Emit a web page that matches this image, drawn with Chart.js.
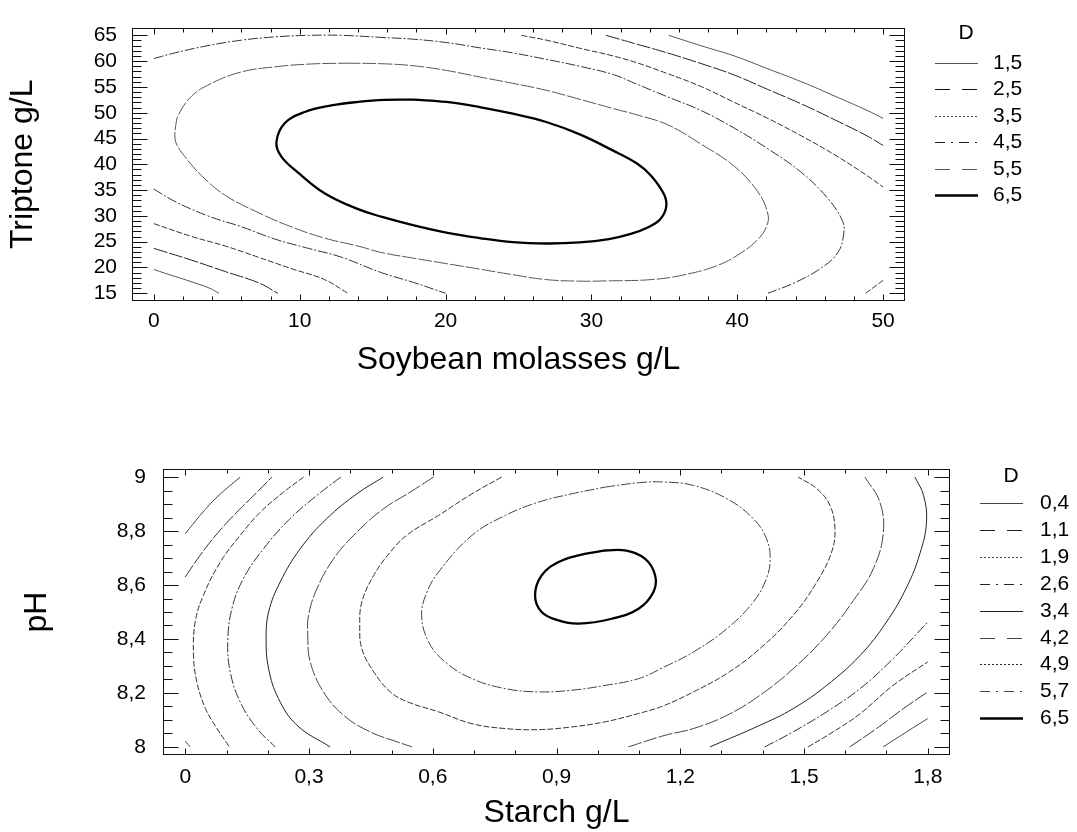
<!DOCTYPE html>
<html>
<head>
<meta charset="utf-8">
<script src="https://cdn.jsdelivr.net/npm/chart.js@4.4.1/dist/chart.umd.min.js"></script>
<style>
  html, body { margin: 0; padding: 0; background: #fff; }
  #wrap { position: relative; width: 1077px; height: 832px; }
  canvas { position: absolute; left: 0; }
</style>
</head>
<body>
<div id="wrap">
  <canvas id="top-chart" width="1077" height="400" style="top:0"></canvas>
  <canvas id="bottom-chart" width="1077" height="402" style="top:430px"></canvas>
</div>
<script>
// ---- upper panel: Soybean molasses vs Triptone ----
let topLevels = ['1,5', '2,5', '3,5', '4,5', '5,5', '6,5'];
let topXTicks = [0, 10, 20, 30, 40, 50];
let topXLabels = ['0', '10', '20', '30', '40', '50'];
let topYTicks = [15, 20, 25, 30, 35, 40, 45, 50, 55, 60, 65];
let topYLabels = ['15', '20', '25', '30', '35', '40', '45', '50', '55', '60', '65'];

// contour lines, [soybean, triptone]
let top15a = [[0, 19.6], [1.44, 18.27], [2.58, 17.22], [3.72, 16.1], [4.47, 15.0]];
let top15b = [[35.3, 65.0], [37.5, 63.0], [39.8, 61.0], [42.1, 58.5], [44.4, 56.0], [46.7, 53.2], [48.9, 50.45], [50, 48.9]];
let top25a = [[0, 23.7], [2.6, 21.4], [4.9, 19.2], [7.2, 17.0], [8.5, 15.0]];
let top25b = [[31.0, 65.0], [33.1, 63.3], [35.2, 61.6], [37.5, 59.55], [39.8, 57.3], [42.1, 54.5], [44.4, 51.7], [46.7, 48.6], [48.9, 45.5], [50, 43.65]];
let top35a = [[0, 28.5], [2.6, 26.0], [4.9, 24.15], [7.15, 22.0], [9.4, 19.8], [11.7, 17.65], [13.3, 15.0]];
let top35b = [[25.2, 65.0], [26.9, 64.07], [29.2, 62.5], [31.5, 61.0], [33.1, 59.7], [35.2, 57.6], [37.5, 55.1], [39.8, 52.0], [42.1, 48.9], [44.4, 45.5], [46.7, 41.8], [48.9, 37.8], [50, 35.6]];
let top35c = [[48.8, 15.0], [50, 17.5]];
let top45a = [[0, 60.5], [1.44, 61.6], [3.7, 63.0], [6.0, 64.06], [8.3, 64.7], [10.6, 65.0], [12.85, 65.0], [15.6, 64.6], [17.8, 64.25],
  [20.05, 63.6], [22.3, 62.6], [24.6, 61.6], [26.9, 60.35], [29.2, 59.0], [31.5, 57.4], [33.1, 55.55], [35.2, 53.1], [37.5, 50.45],
  [39.8, 47.0], [42.1, 43.0], [44.4, 38.4], [46.2, 33.4], [47.2, 29.1], [47.3, 26.6], [46.9, 22.9], [45.7, 19.8], [43.9, 17.0], [42.1, 15.0]];
let top45b = [[0, 35.2], [1.44, 32.8], [3.7, 30.0], [6.0, 27.9], [8.3, 25.5], [10.6, 23.7], [12.85, 22.0], [15.6, 19.0], [17.8, 17.1], [20.0, 15.0]];
let top55 = [[13.2, 59.6], [15.6, 59.5], [17.8, 59.1], [20.05, 58.2], [22.3, 56.95], [24.6, 55.7], [26.9, 54.35], [29.2, 52.6],
  [31.5, 50.8], [33.1, 49.6], [35.2, 47.7], [37.5, 43.95], [39.8, 39.6], [41.4, 34.7], [42.1, 30.35], [42.0, 27.9], [41.4, 25.4],
  [40.3, 22.9], [38.7, 20.45], [36.4, 18.6], [34.1, 17.65], [31.0, 17.4], [29.2, 17.35], [26.9, 17.65], [24.6, 18.6], [22.3, 19.7],
  [20.05, 20.75], [17.8, 21.8], [15.6, 22.9], [14.0, 24.15], [11.7, 25.7], [9.4, 27.9], [7.15, 30.65], [4.86, 34.05], [3.27, 37.8],
  [2.12, 41.5], [1.55, 43.95], [1.44, 45.5], [1.5, 47.5], [1.67, 49.5], [2.58, 53.2], [3.95, 55.7], [6.0, 57.9], [8.3, 58.9],
  [10.8, 59.45], [13.2, 59.6]];
let top65 = [[17.8, 52.55], [20.05, 52.1], [22.33, 51.1], [24.61, 49.8], [26.9, 48.2], [29.2, 45.8], [31.46, 42.7], [33.1, 40.2],
  [34.09, 37.8], [35.0, 34.05], [35.12, 31.6], [34.7, 29.3], [33.9, 27.8], [32.7, 26.5], [31.2, 25.5], [29.2, 24.85], [26.9, 24.65],
  [24.61, 24.9], [22.33, 25.7], [20.05, 26.75], [17.76, 28.2], [15.65, 29.8], [14.0, 31.3], [11.7, 34.4], [9.89, 38.4], [8.74, 41.5],
  [8.4, 44.3], [8.97, 47.97], [10.34, 50.14], [12.17, 51.4], [14.0, 52.1], [15.8, 52.5], [17.8, 52.55]];

// ---- lower panel: Starch vs pH ----
let botLevels = ['0,4', '1,1', '1,9', '2,6', '3,4', '4,2', '4,9', '5,7', '6,5'];
let botXTicks = [0, 0.3, 0.6, 0.9, 1.2, 1.5, 1.8];
let botXLabels = ['0', '0,3', '0,6', '0,9', '1,2', '1,5', '1,8'];
let botYTicks = [8, 8.2, 8.4, 8.6, 8.8, 9];
let botYLabels = ['8', '8,2', '8,4', '8,6', '8,8', '9'];

// [starch, pH]
let bot04a = [[0, 8.79], [0.036, 8.858], [0.077, 8.926], [0.133, 9.0]];
let bot04b = [[0, 8.021], [0.012, 8.0]];
let bot04c = [[1.692, 8.0], [1.749, 8.056], [1.8, 8.105]];
let bot11a = [[0, 8.63], [0.036, 8.71], [0.077, 8.79], [0.125, 8.87], [0.166, 8.932], [0.21, 9.0]];
let bot11b = [[1.611, 8.0], [1.676, 8.068], [1.741, 8.142], [1.8, 8.204]];
let bot19a = [[0.287, 9.0], [0.238, 8.944], [0.182, 8.87], [0.133, 8.784], [0.085, 8.685], [0.044, 8.562], [0.024, 8.463],
  [0.02, 8.34], [0.028, 8.241], [0.049, 8.142], [0.077, 8.068], [0.107, 8.0]];
let bot19b = [[1.51, 8.0], [1.571, 8.056], [1.636, 8.123], [1.716, 8.228], [1.8, 8.315]];
let bot26a = [[0.377, 9.0], [0.319, 8.932], [0.254, 8.846], [0.19, 8.735], [0.141, 8.624], [0.113, 8.512], [0.103, 8.389],
  [0.109, 8.278], [0.133, 8.167], [0.174, 8.068], [0.218, 8.0]];
let bot26b = [[1.405, 8.0], [1.474, 8.056], [1.555, 8.13], [1.636, 8.216], [1.716, 8.327], [1.8, 8.463]];
let bot34a = [[0.48, 9.0], [0.416, 8.938], [0.343, 8.846], [0.279, 8.735], [0.23, 8.611], [0.202, 8.5], [0.196, 8.401],
  [0.202, 8.29], [0.226, 8.179], [0.271, 8.08], [0.351, 8.0]];
let bot34b = [[1.272, 8.0], [1.393, 8.08], [1.474, 8.142], [1.555, 8.228], [1.636, 8.339], [1.7, 8.463], [1.749, 8.592],
  [1.781, 8.716], [1.797, 8.833], [1.79, 8.932], [1.769, 9.0]];
let bot42a = [[0.602, 9.0], [0.545, 8.944], [0.481, 8.883], [0.416, 8.796], [0.36, 8.698], [0.319, 8.586], [0.299, 8.488],
  [0.297, 8.414], [0.303, 8.315], [0.335, 8.204], [0.384, 8.117], [0.448, 8.056], [0.513, 8.019], [0.55, 8.0]];
let bot42b = [[1.074, 8.0], [1.163, 8.043], [1.232, 8.068], [1.313, 8.117], [1.393, 8.191], [1.474, 8.29], [1.555, 8.414],
  [1.62, 8.543], [1.668, 8.66], [1.692, 8.79], [1.684, 8.907], [1.648, 9.0]];
let bot49 = [[0.767, 9.0], [0.695, 8.938], [0.614, 8.858], [0.539, 8.787], [0.497, 8.722], [0.457, 8.636], [0.428, 8.537],
  [0.423, 8.451], [0.428, 8.364], [0.457, 8.278], [0.497, 8.204], [0.539, 8.167], [0.614, 8.13], [0.695, 8.086], [0.776, 8.068],
  [0.856, 8.064], [0.937, 8.074], [1.018, 8.093], [1.099, 8.124], [1.157, 8.151], [1.232, 8.204], [1.313, 8.272], [1.393, 8.364],
  [1.474, 8.488], [1.531, 8.611], [1.567, 8.722], [1.575, 8.809], [1.563, 8.895], [1.531, 8.957], [1.486, 9.0]];
let bot57 = [[1.018, 8.963], [1.099, 8.979], [1.157, 8.982], [1.232, 8.969], [1.313, 8.92], [1.377, 8.846], [1.409, 8.772],
  [1.418, 8.698], [1.409, 8.624], [1.377, 8.537], [1.313, 8.438], [1.232, 8.352], [1.157, 8.293], [1.099, 8.253], [1.018, 8.228],
  [0.937, 8.21], [0.856, 8.204], [0.776, 8.216], [0.695, 8.253], [0.63, 8.315], [0.59, 8.389], [0.573, 8.488], [0.585, 8.57],
  [0.614, 8.648], [0.695, 8.784], [0.776, 8.858], [0.856, 8.907], [0.937, 8.938], [1.018, 8.963]];
let bot65 = [[1.018, 8.728], [1.066, 8.728], [1.115, 8.697], [1.139, 8.636], [1.135, 8.574], [1.099, 8.512], [1.034, 8.475],
  [0.953, 8.457], [0.905, 8.469], [0.864, 8.5], [0.848, 8.562], [0.864, 8.636], [0.905, 8.685], [0.953, 8.71], [1.018, 8.728]];

// line styles: plot lines are drawn with short gaps, legend samples with the full pattern
let plotDash = { solid: [], dashed: [14, 2], dotted: [6, 2], dashdot: [10, 2, 2, 2], thick: [] };
let legendDash = { solid: [], dashed: [15, 12], dotted: [2, 2], dashdot: [10, 6, 2, 6], thick: [] };

let topStyles = ['solid', 'dashed', 'dotted', 'dashdot', 'dashed', 'thick'];
let topColors = ['#555', '#222', '#333', '#333', '#555', '#000'];
let botStyles = ['solid', 'dashed', 'dotted', 'dashdot', 'solid', 'dashed', 'dotted', 'dashdot', 'thick'];
let botColors = ['#444', '#333', '#333', '#333', '#222', '#444', '#333', '#444', '#000'];

// which level each piece belongs to
let topPieces = [[top15a, 0], [top15b, 0], [top25a, 1], [top25b, 1], [top35a, 2], [top35b, 2], [top35c, 2],
  [top45a, 3], [top45b, 3], [top55, 4], [top65, 5]];
let botPieces = [[bot04a, 0], [bot04b, 0], [bot04c, 0], [bot11a, 1], [bot11b, 1], [bot19a, 2], [bot19b, 2],
  [bot26a, 3], [bot26b, 3], [bot34a, 4], [bot34b, 4], [bot42a, 5], [bot42b, 5], [bot49, 6], [bot57, 7], [bot65, 8]];

const FONT = "'Liberation Sans', Arial, sans-serif";

function makeSets(pieces, styles, colors) {
  return pieces.map(([pts, lvl]) => ({
    data: pts.map(([x, y]) => ({ x, y })),
    showLine: true,
    pointRadius: 0,
    fill: false,
    tension: 0.4,
    borderColor: colors[lvl],
    borderWidth: styles[lvl] === 'thick' ? 2.3 : 1,
    borderDash: plotDash[styles[lvl]]
  }));
}

// box round the plot + inward tick marks on all four sides
const frameTicks = {
  id: 'frameTicks',
  afterDatasetsDraw(chart, args, o) {
    const { ctx, chartArea: a, scales: { x, y } } = chart;
    ctx.save();
    ctx.strokeStyle = '#111';
    ctx.lineWidth = 1;
    ctx.setLineDash([]);
    ctx.beginPath();
    const L = Math.round(a.left) + 0.5, R = Math.round(a.right) - 0.5;
    const T = Math.round(a.top) + 0.5, B = Math.round(a.bottom) - 0.5;
    const xt = (vals, len) => vals.forEach(v => {
      const px = Math.round(x.getPixelForValue(v)) + 0.5;
      ctx.moveTo(px, B); ctx.lineTo(px, B - len);
      ctx.moveTo(px, T); ctx.lineTo(px, T + len);
    });
    const yt = (vals, len) => vals.forEach(v => {
      const py = Math.round(y.getPixelForValue(v)) + 0.5;
      ctx.moveTo(L, py); ctx.lineTo(L + len, py);
      ctx.moveTo(R, py); ctx.lineTo(R - len, py);
    });
    xt(o.xMinor, 4);
    xt(o.xMajor, 6);
    yt(o.yMinor, 9);
    yt(o.yMajor, 15);
    ctx.stroke();
    ctx.strokeRect(L, T, R - L, B - T);
    ctx.restore();
  }
};

// "D" legend to the right of the plot
const contourLegend = {
  id: 'contourLegend',
  afterDraw(chart, args, o) {
    const { ctx, chartArea: a } = chart;
    ctx.save();
    ctx.fillStyle = '#000';
    ctx.textBaseline = 'middle';
    ctx.font = '21px ' + FONT;
    ctx.textAlign = 'center';
    ctx.fillText('D', a.right + o.titleDx, a.top + o.titleDy);
    ctx.textAlign = 'left';
    o.labels.forEach((label, i) => {
      const yy = Math.round(a.top + o.firstDy + i * o.rowGap) + 0.5;
      const st = o.styles[i];
      ctx.beginPath();
      ctx.setLineDash(legendDash[st]);
      ctx.lineWidth = st === 'thick' ? 2.3 : 1;
      ctx.strokeStyle = o.colors[i];
      ctx.moveTo(a.right + o.lineDx, yy);
      ctx.lineTo(a.right + o.lineDx + 43, yy);
      ctx.stroke();
      ctx.setLineDash([]);
      ctx.fillText(label, a.right + o.textDx, yy);
    });
    ctx.restore();
  }
};

function range(from, to, step) {
  let out = [];
  for (let i = 0; from + i * step <= to + step / 1000; i++) out.push(+(from + i * step).toFixed(4));
  return out;
}

function makeChart(id, cfg) {
  return new Chart(document.getElementById(id), {
    type: 'scatter',
    data: { datasets: cfg.datasets },
    options: {
      responsive: false,
      animation: false,
      events: [],
      layout: { padding: cfg.padding },
      scales: {
        x: {
          min: cfg.xMin, max: cfg.xMax,
          grid: { display: false, drawTicks: false },
          border: { display: false },
          afterBuildTicks: s => { s.ticks = cfg.xTicks.map(v => ({ value: v })); },
          afterFit: s => { s.height = cfg.xAxisHeight; },
          ticks: {
            autoSkip: false, maxRotation: 0, padding: cfg.xTickPad, color: '#000',
            font: { family: FONT, size: 21 },
            callback: (v, i) => cfg.xLabels[i]
          },
          title: {
            display: true, text: cfg.xTitle, color: '#000',
            font: { family: FONT, size: 32 },
            padding: { top: 0, bottom: cfg.xTitlePad }
          }
        },
        y: {
          min: cfg.yMin, max: cfg.yMax,
          grid: { display: false, drawTicks: false },
          border: { display: false },
          afterBuildTicks: s => { s.ticks = cfg.yTicks.map(v => ({ value: v })); },
          afterFit: s => { s.width = cfg.yAxisWidth; },
          ticks: {
            autoSkip: false, padding: cfg.yTickPad, color: '#000',
            font: { family: FONT, size: 21 },
            callback: (v, i) => cfg.yLabels[i]
          },
          title: {
            display: true, text: cfg.yTitle, color: '#000',
            font: { family: FONT, size: 32 },
            padding: { top: cfg.yTitlePad, bottom: 0 }
          }
        }
      },
      plugins: {
        legend: { display: false },
        tooltip: { enabled: false },
        frameTicks: cfg.frame,
        contourLegend: cfg.legend
      }
    },
    plugins: [frameTicks, contourLegend]
  });
}

makeChart('top-chart', {
  datasets: makeSets(topPieces, topStyles, topColors),
  padding: { top: 16, right: 172, left: 0, bottom: 0 },
  xMin: -1.5, xMax: 51.5, yMin: 13.5, yMax: 66.5,
  xTicks: topXTicks, xLabels: topXLabels, yTicks: topYTicks, yLabels: topYLabels,
  xAxisHeight: 99, yAxisWidth: 132,
  xTickPad: 8, yTickPad: 15, xTitlePad: 21, yTitlePad: 4,
  xTitle: 'Soybean molasses g/L', yTitle: 'Triptone g/L',
  frame: { xMajor: topXTicks, xMinor: range(0, 50, 2), yMajor: topYTicks, yMinor: range(15, 65, 1) },
  legend: { labels: topLevels, styles: topStyles, colors: ['#555', '#111', '#444', '#222', '#555', '#000'],
    titleDx: 61, titleDy: 6, firstDy: 35, rowGap: 26.5, lineDx: 30, textDx: 88 }
});

makeChart('bottom-chart', {
  datasets: makeSets(botPieces, botStyles, botColors),
  padding: { top: 39, right: 127, left: 0, bottom: 0 },
  xMin: -0.054, xMax: 1.854, yMin: 7.97, yMax: 9.03,
  xTicks: botXTicks, xLabels: botXLabels, yTicks: botYTicks, yLabels: botYLabels,
  xAxisHeight: 77, yAxisWidth: 163,
  xTickPad: 10, yTickPad: 17, xTitlePad: 0, yTitlePad: 18,
  xTitle: 'Starch g/L', yTitle: 'pH',
  frame: { xMajor: botXTicks, xMinor: range(0, 1.8, 0.1), yMajor: botYTicks, yMinor: range(8, 9, 0.05) },
  legend: { labels: botLevels, styles: botStyles, colors: ['#444', '#222', '#444', '#222', '#222', '#444', '#222', '#444', '#000'],
    titleDx: 61, titleDy: 7.5, firstDy: 34, rowGap: 26.9, lineDx: 30, textDx: 90 }
});
</script>
</body>
</html>
